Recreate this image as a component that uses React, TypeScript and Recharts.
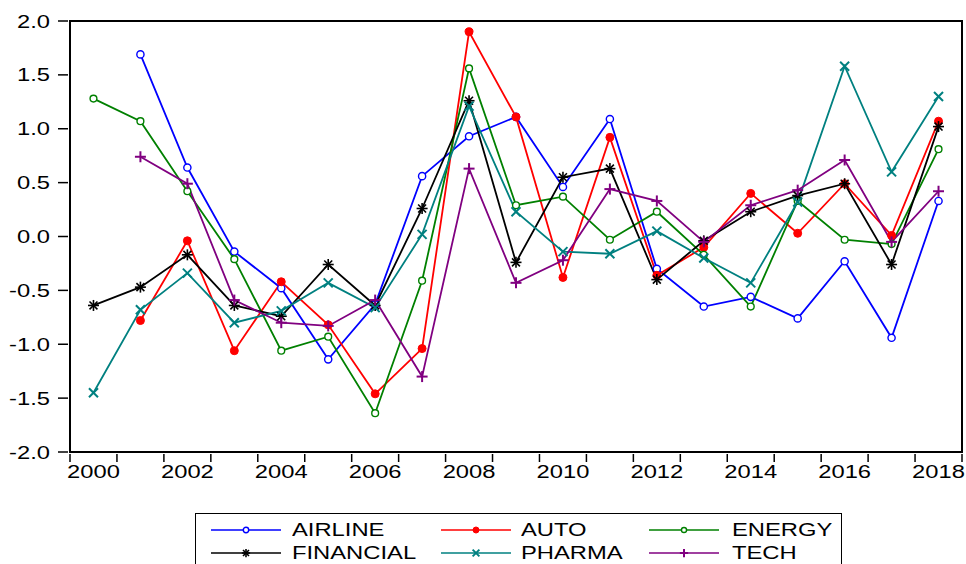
import { LineChart, Line, XAxis, YAxis, ReferenceArea } from 'recharts';

const years = [2000, 2001, 2002, 2003, 2004, 2005, 2006, 2007, 2008, 2009, 2010, 2011, 2012, 2013, 2014, 2015, 2016, 2017, 2018];

const airline = [null, 1.69, 0.64, -0.14, -0.48, -1.14, -0.63, 0.56, 0.93, 1.11, 0.46, 1.09, -0.3, -0.65, -0.56, -0.76, -0.23, -0.94, 0.33];
const auto = [null, -0.78, -0.04, -1.06, -0.42, -0.82, -1.46, -1.04, 1.9, 1.11, -0.38, 0.92, -0.36, -0.1, 0.4, 0.03, 0.49, 0.01, 1.07];
const energy = [1.28, 1.07, 0.42, -0.21, -1.06, -0.93, -1.64, -0.41, 1.56, 0.29, 0.37, -0.03, 0.23, -0.17, -0.65, 0.33, -0.03, -0.07, 0.81];
const financial = [-0.64, -0.47, -0.17, -0.64, -0.74, -0.26, -0.64, 0.26, 1.26, -0.24, 0.55, 0.63, -0.4, -0.04, 0.23, 0.38, 0.49, -0.26, 1.02];
const pharma = [-1.45, -0.68, -0.34, -0.8, -0.69, -0.43, -0.66, 0.02, 1.21, 0.23, -0.14, -0.16, 0.05, -0.2, -0.43, 0.32, 1.58, 0.6, 1.3];
const tech = [null, 0.74, 0.49, -0.59, -0.8, -0.83, -0.59, -1.3, 0.63, -0.43, -0.22, 0.44, 0.33, -0.05, 0.29, 0.43, 0.71, -0.05, 0.42];

const yTicks = [-2, -1.5, -1, -0.5, 0, 0.5, 1, 1.5, 2];
const xLabels = [2000, 2002, 2004, 2006, 2008, 2010, 2012, 2014, 2016, 2018];
const xTickMarks = [1999.5, 2000.5, 2001.5, 2002.5, 2003.5, 2004.5, 2005.5, 2006.5, 2007.5, 2008.5, 2009.5, 2010.5, 2011.5, 2012.5, 2013.5, 2014.5, 2015.5, 2016.5, 2017.5, 2018.5];

type Marker = 'circle' | 'disc' | 'small' | 'star' | 'cross' | 'plus';

const series: { key: string; label: string; color: string; marker: Marker }[] = [
  { key: 'AIRLINE', label: 'AIRLINE', color: '#0000ff', marker: 'circle' },
  { key: 'AUTO', label: 'AUTO', color: '#ff0000', marker: 'disc' },
  { key: 'ENERGY', label: 'ENERGY', color: '#008000', marker: 'small' },
  { key: 'FINANCIAL', label: 'FINANCIAL', color: '#000000', marker: 'star' },
  { key: 'PHARMA', label: 'PHARMA', color: '#008080', marker: 'cross' },
  { key: 'TECH', label: 'TECH', color: '#800080', marker: 'plus' },
];

const data = years.map((year, i) => ({
  year,
  AIRLINE: airline[i],
  AUTO: auto[i],
  ENERGY: energy[i],
  FINANCIAL: financial[i],
  PHARMA: pharma[i],
  TECH: tech[i],
}));

const FONT = '"Liberation Sans", Arial, sans-serif';
const STRETCH = 1.32;

const markerShape = (kind: Marker, color: string, cx: number, cy: number, s = 1) => {
  switch (kind) {
    case 'circle':
      return <circle cx={cx} cy={cy} r={3.6 * s} fill="#fff" stroke={color} strokeWidth={1.4} />;
    case 'disc':
      return <circle cx={cx} cy={cy} r={4 * s} fill={color} stroke={color} strokeWidth={1} />;
    case 'small':
      return <circle cx={cx} cy={cy} r={3.4 * s} fill="#fff" stroke={color} strokeWidth={1.4} />;
    case 'star': {
      const a = 5.5 * s;
      const d = a * 0.72;
      return (
        <g stroke={color} strokeWidth={1.6}>
          <line x1={cx - a} y1={cy} x2={cx + a} y2={cy} />
          <line x1={cx} y1={cy - a} x2={cx} y2={cy + a} />
          <line x1={cx - d} y1={cy - d} x2={cx + d} y2={cy + d} />
          <line x1={cx - d} y1={cy + d} x2={cx + d} y2={cy - d} />
        </g>
      );
    }
    case 'cross': {
      const a = 4.5 * s;
      return (
        <g stroke={color} strokeWidth={2}>
          <line x1={cx - a} y1={cy - a} x2={cx + a} y2={cy + a} />
          <line x1={cx - a} y1={cy + a} x2={cx + a} y2={cy - a} />
        </g>
      );
    }
    default: {
      const a = 5.5 * s;
      return (
        <g stroke={color} strokeWidth={2}>
          <line x1={cx - a} y1={cy} x2={cx + a} y2={cy} />
          <line x1={cx} y1={cy - a} x2={cx} y2={cy + a} />
        </g>
      );
    }
  }
};

const makeDot = (kind: Marker, color: string) => (props: any) => {
  const { cx, cy, value, index } = props;
  if (cx == null || cy == null || value == null) return <g key={`d-${index}`} />;
  return <g key={`d-${index}`}>{markerShape(kind, color, cx, cy)}</g>;
};

const XTick = (props: any) => {
  const { x, y, payload } = props;
  const v = payload.value;
  if (v % 1 !== 0) {
    return <line x1={x} y1={y} x2={x} y2={y + 8} stroke="#000" strokeWidth={1.5} />;
  }
  return (
    <text transform={`translate(${x},${y + 24}) scale(${STRETCH},1)`} textAnchor="middle" fontSize={18} fontFamily={FONT} fill="#000">
      {v}
    </text>
  );
};

const YTick = (props: any) => {
  const { x, y, payload } = props;
  return (
    <g>
      <line x1={x - 10} y1={y} x2={x} y2={y} stroke="#000" strokeWidth={1.5} />
      <text transform={`translate(${x - 18},${y + 6.5}) scale(${STRETCH},1)`} textAnchor="end" fontSize={18} fontFamily={FONT} fill="#000">
        {payload.value.toFixed(1)}
      </text>
    </g>
  );
};

const legendCols = [15, 245, 453];
const legendText = [96, 325, 536];
const legendRows = [16, 39];

const App = () => (
  <div style={{ position: 'absolute', left: 0, top: 0, width: 966, height: 564, overflow: 'hidden', background: '#fff' }}>
    <LineChart width={966} height={564} data={data} margin={{ top: 21, right: 4, left: 10, bottom: 82 }}>
      <XAxis
        dataKey="year"
        type="number"
        domain={[1999.5, 2018.5]}
        ticks={[...xTickMarks, ...xLabels]}
        interval={0}
        tickSize={0}
        tickLine={false}
        height={30}
        axisLine={{ stroke: '#000', strokeWidth: 2 }}
        tick={<XTick />}
        allowDataOverflow
      />
      <YAxis
        type="number"
        domain={[-2, 2]}
        ticks={yTicks}
        interval={0}
        tickSize={0}
        tickLine={false}
        width={60}
        axisLine={{ stroke: '#000', strokeWidth: 2 }}
        tick={<YTick />}
        allowDataOverflow
      />
      <ReferenceArea x1={1999.5} x2={2018.5} y1={-2} y2={2} fill="none" stroke="#000" strokeWidth={2} />
      {series.map((s) => (
        <Line
          key={s.key}
          type="linear"
          dataKey={s.key}
          stroke={s.color}
          strokeWidth={1.8}
          dot={makeDot(s.marker, s.color)}
          activeDot={false}
          isAnimationActive={false}
        />
      ))}
    </LineChart>
    <div style={{ position: 'absolute', left: 195, top: 513, width: 647, height: 60, border: '1px solid #000', boxSizing: 'border-box' }}>
      {series.map((s, i) => {
        const col = i % 3;
        const row = Math.floor(i / 3);
        const cy = legendRows[row];
        return (
          <div key={s.key}>
            <svg style={{ position: 'absolute', left: legendCols[col], top: cy - 8 }} width={70} height={16}>
              <line x1={0} y1={8} x2={70} y2={8} stroke={s.color} strokeWidth={1.7} />
              {markerShape(s.marker, s.color, 35, 8, 0.75)}
            </svg>
            <span
              style={{
                position: 'absolute',
                left: legendText[col],
                top: cy - 11,
                fontFamily: FONT,
                fontSize: 18,
                lineHeight: '22px',
                color: '#000',
                whiteSpace: 'nowrap',
                transform: `scaleX(${STRETCH})`,
                transformOrigin: 'left center',
              }}
            >
              {s.label}
            </span>
          </div>
        );
      })}
    </div>
  </div>
);

export default App;
